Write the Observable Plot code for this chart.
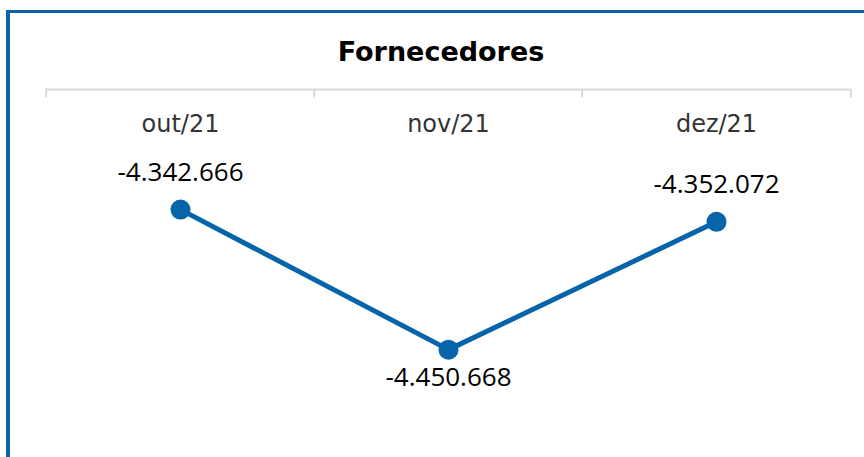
<!DOCTYPE html>
<html>
<head>
<meta charset="utf-8">
<script src="https://cdn.jsdelivr.net/npm/d3@7"></script>
<script src="https://cdn.jsdelivr.net/npm/@observablehq/plot@0.6"></script>
<style>
  html, body { margin: 0; padding: 0; background: #fff; width: 864px; height: 457px; overflow: hidden; }
  #wrap { position: relative; width: 864px; height: 457px; }
  #border { position: absolute; left: 6px; top: 10px; width: 900px; height: 500px;
    border-left: 4px solid #0565a8; border-top: 3px solid #0565a8; box-sizing: border-box; }
  #title { position: absolute; left: 0; width: 882px; top: 34px; text-align: center;
    font-family: "DejaVu Sans", sans-serif; font-weight: bold; font-size: 27px; color: #000; line-height: 36px; }
  #chart { position: absolute; left: 0; top: 0; }
</style>
</head>
<body>
<div id="wrap">
  <div id="border"></div>
  <div id="title">Fornecedores</div>
  <div id="chart"></div>
</div>
<script>
const months = ["out/21", "nov/21", "dez/21"];
const values = [-4342666, -4450668, -4352072];
const yDomain = [-4520000, -4250000];

const data = months.map((m, i) => ({month: m, value: values[i]}));
const fmt = v => d3.format(",")(v).replace(/,/g, ".").replace("−", "-");
const blue = "#0565a8";
const W = 864, mL = 45, mR = 13;
const bw = (W - mL - mR) / months.length;
const labelFont = "'Open Sans', 'Noto Sans', sans-serif";

const chart = Plot.plot({
  width: W,
  height: 457,
  marginTop: 89,
  marginBottom: 18,
  marginLeft: mL,
  marginRight: mR,
  style: {background: "transparent", overflow: "visible"},
  x: {type: "band", domain: months, padding: 0, axis: null},
  y: {domain: yDomain, axis: null},
  marks: [
    Plot.ruleY([yDomain[1]], {stroke: "#d9d9d9", strokeWidth: 2}),
    Plot.ruleX(months, {x: d => d, dx: -bw / 2, y1: yDomain[1], y2: yDomain[1] - 6500, stroke: "#d9d9d9", strokeWidth: 2}),
    Plot.ruleX([months[months.length - 1]], {x: d => d, dx: bw / 2, y1: yDomain[1], y2: yDomain[1] - 6500, stroke: "#d9d9d9", strokeWidth: 2}),
    Plot.text(months, {x: d => d, frameAnchor: "top", lineAnchor: "middle", dy: 35, text: d => d,
      fontSize: 24, fill: "#333333", fontFamily: "'DejaVu Sans', sans-serif"}),
    Plot.line(data, {x: "month", y: "value", stroke: blue, strokeWidth: 5}),
    Plot.dot(data, {x: "month", y: "value", r: 10, fill: blue, stroke: "none"}),
    Plot.text(data.filter((d, i) => i !== 1), {x: "month", y: "value", text: d => fmt(d.value),
      dy: -37, fontSize: 26, fill: "#000", fontFamily: labelFont}),
    Plot.text(data.filter((d, i) => i === 1), {x: "month", y: "value", text: d => fmt(d.value),
      dy: 28, fontSize: 26, fill: "#000", fontFamily: labelFont})
  ]
});
document.getElementById("chart").appendChild(chart);
</script>
</body>
</html>
